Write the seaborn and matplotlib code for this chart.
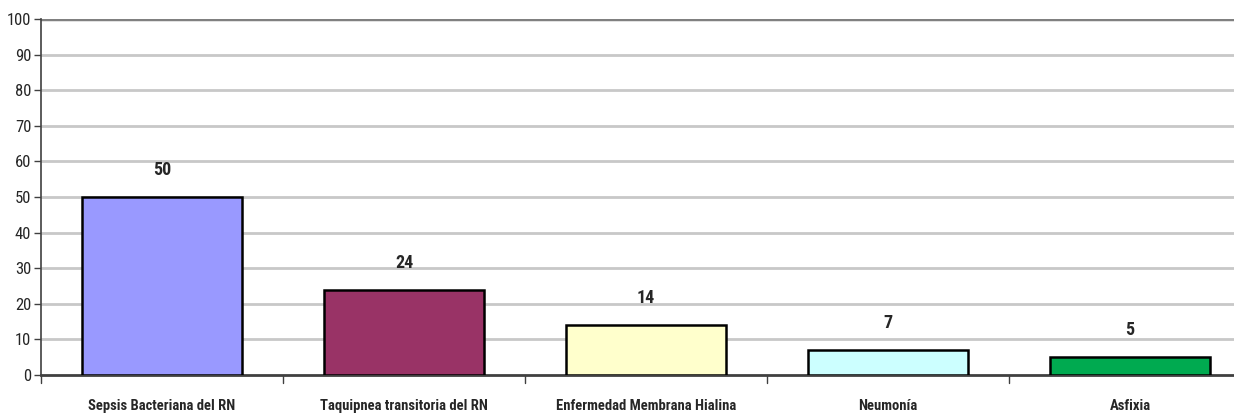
import matplotlib
matplotlib.use('Agg')
import matplotlib.pyplot as plt
import seaborn as sns
import pandas as pd

categories = ['Sepsis Bacteriana del RN', 'Taquipnea transitoria del RN',
              'Enfermedad Membrana Hialina', 'Neumonía', 'Asfixia']
values = [50, 24, 14, 7, 5]
colors = ['#9999FF', '#993366', '#FFFFCC', '#CCFFFF', '#00AA50']
y_ticks = list(range(0, 101, 10))

sns.set_style("white")
plt.rcParams['font.family'] = ['Roboto Condensed', 'DejaVu Sans']

df = pd.DataFrame({'cat': categories, 'val': values})

fig = plt.figure(figsize=(12.34, 4.19), dpi=100)
ax = fig.add_axes([41 / 1234, 1 - 375 / 419, 1210 / 1234, 356 / 419])

sns.barplot(data=df, x='cat', y='val', hue='cat', palette=colors, legend=False,
            width=0.665, edgecolor='black', linewidth=1.8, saturation=1, ax=ax, zorder=3)

ax.set_ylim(0, 100)
ax.set_xlim(-0.5, len(categories) - 0.5)
ax.set_yticks(y_ticks)
ax.set_yticklabels([str(t) for t in y_ticks], fontsize=12)
ax.set_xticks(range(len(categories)))
ax.set_xticklabels(categories, fontsize=10.5, fontweight='bold')
ax.tick_params(axis='x', length=0, pad=17)
ax.tick_params(axis='y', length=5, width=1, color='#404040', pad=2, left=True)
ax.set_xlabel('')
ax.set_ylabel('')

for t in y_ticks[1:-1]:
    ax.axhline(t, color='#C8C8C8', lw=2, zorder=1)
ax.axhline(100, color='#808080', lw=2.5, zorder=1)

# separadores entre categorias
for i in range(len(categories) + 1):
    ax.plot([i - 0.5, i - 0.5], [0, -2.2], color='#404040', lw=1, clip_on=False)

for s in ['top', 'right']:
    ax.spines[s].set_visible(False)
ax.spines['left'].set_color('#404040')
ax.spines['left'].set_linewidth(1.2)
ax.spines['bottom'].set_color('#404040')
ax.spines['bottom'].set_linewidth(2)

for i, v in enumerate(values):
    ax.text(i, v + 5.0, str(v), ha='center', va='bottom', fontsize=13, fontweight='bold')

fig.savefig('out.png', dpi=100)
